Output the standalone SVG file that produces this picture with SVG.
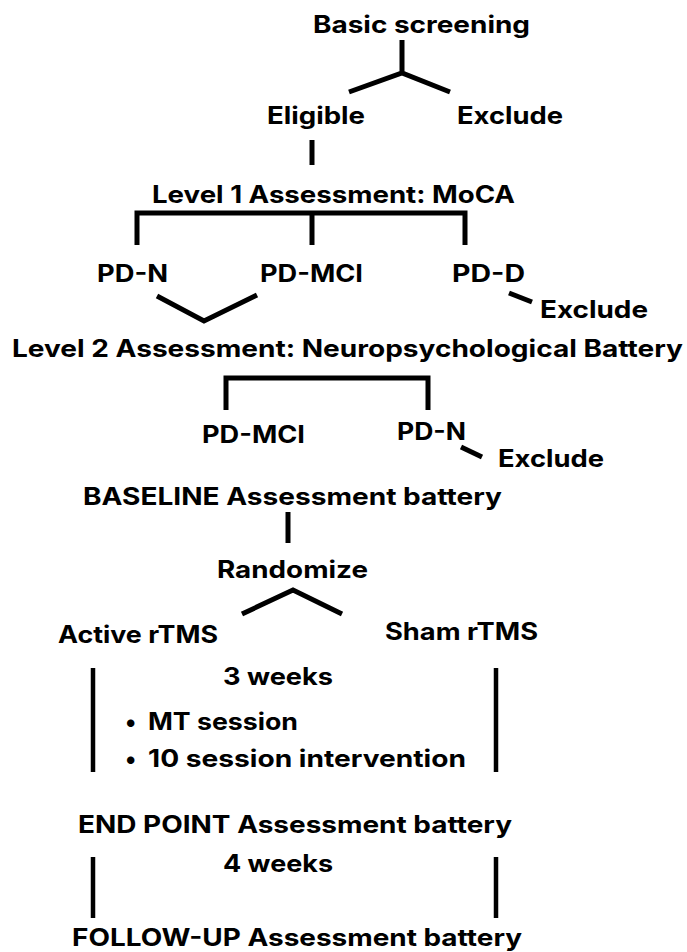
<svg xmlns="http://www.w3.org/2000/svg" width="687" height="952" viewBox="0 0 687 952">
<style>
text{font-family:Inter,"Liberation Sans",Arial,sans-serif;font-weight:bold;font-size:24px;fill:#000}
.c path{fill:none;stroke:#000;stroke-width:5;stroke-linecap:butt;stroke-linejoin:miter}
.c .thin{stroke-width:4.5}
</style>
<rect width="687" height="952" fill="#fff"/>
<g class="c" id="connectors">
<path d="M402,40 V73 M349,92 L402,73 L450,92"/>
<path d="M312,140 V165"/>
<path d="M137,245 V213 H465 V245 M312,213 V245"/>
<path d="M157,296 L204,321 L257,295"/>
<path d="M509,293 L532,302"/>
<path d="M226,410 V378 H428 V410"/>
<path d="M461,447 L482,457"/>
<path d="M288,512 V543"/>
<path d="M242,614 L293,590 L342,614"/>
<path class="thin" d="M93,668 V772 M496,668 V772 M93,857 V918 M496,857 V918"/>
</g>
<g id="basic"><text x="313" y="33" textLength="217" lengthAdjust="spacingAndGlyphs">Basic screening</text></g>
<g id="eligible"><text x="267" y="124" textLength="98" lengthAdjust="spacingAndGlyphs">Eligible</text></g>
<g id="exclude1"><text x="457" y="124" textLength="106" lengthAdjust="spacingAndGlyphs">Exclude</text></g>
<g id="level1"><text x="152" y="203" textLength="363" lengthAdjust="spacingAndGlyphs">Level 1 Assessment: MoCA</text></g>
<g id="pdn1"><text x="97" y="282" textLength="71" lengthAdjust="spacingAndGlyphs">PD-N</text></g>
<g id="pdmci1"><text x="260" y="282" textLength="103" lengthAdjust="spacingAndGlyphs">PD-MCI</text></g>
<g id="pdd"><text x="452" y="282" textLength="73" lengthAdjust="spacingAndGlyphs">PD-D</text></g>
<g id="exclude2"><text x="540" y="318" textLength="108" lengthAdjust="spacingAndGlyphs">Exclude</text></g>
<g id="level2"><text x="12" y="357" textLength="671" lengthAdjust="spacingAndGlyphs">Level 2 Assessment: Neuropsychological Battery</text></g>
<g id="pdmci2"><text x="202" y="443" textLength="103" lengthAdjust="spacingAndGlyphs">PD-MCI</text></g>
<g id="pdn2"><text x="397" y="440" textLength="69" lengthAdjust="spacingAndGlyphs">PD-N</text></g>
<g id="exclude3"><text x="498" y="467" textLength="106" lengthAdjust="spacingAndGlyphs">Exclude</text></g>
<g id="baseline"><text x="83" y="505" textLength="419" lengthAdjust="spacingAndGlyphs">BASELINE Assessment battery</text></g>
<g id="randomize"><text x="217" y="578" textLength="151" lengthAdjust="spacingAndGlyphs">Randomize</text></g>
<g id="active"><text x="58" y="643" textLength="160" lengthAdjust="spacingAndGlyphs">Active rTMS</text></g>
<g id="sham"><text x="385" y="640" textLength="153" lengthAdjust="spacingAndGlyphs">Sham rTMS</text></g>
<g id="intervention">
<text x="223" y="685" textLength="110" lengthAdjust="spacingAndGlyphs">3 weeks</text>
<text x="125" y="730">•</text>
<text x="148" y="730" textLength="150" lengthAdjust="spacingAndGlyphs">MT session</text>
<text x="125" y="767">•</text>
<text x="148" y="767" textLength="318" lengthAdjust="spacingAndGlyphs">10 session intervention</text>
</g>
<g id="endpoint"><text x="78" y="833" textLength="434" lengthAdjust="spacingAndGlyphs">END POINT Assessment battery</text></g>
<g id="followgap"><text x="223" y="872" textLength="110" lengthAdjust="spacingAndGlyphs">4 weeks</text></g>
<g id="followup"><text x="72" y="946" textLength="450" lengthAdjust="spacingAndGlyphs">FOLLOW-UP Assessment battery</text></g>
</svg>
